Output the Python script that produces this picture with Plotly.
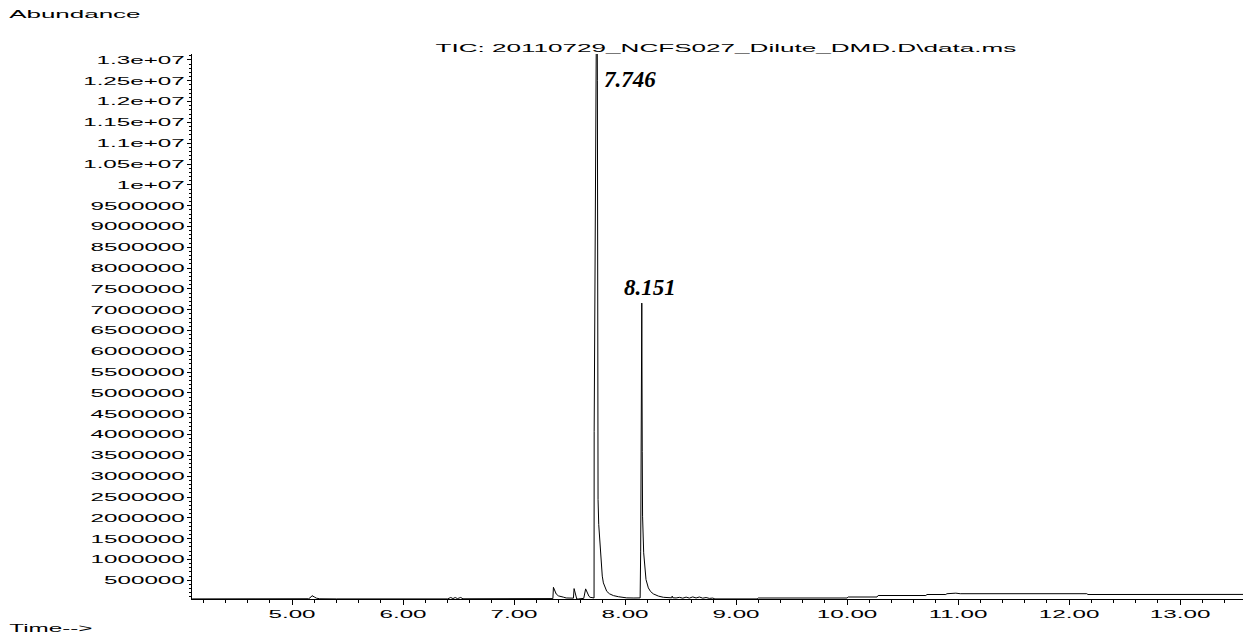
import plotly.graph_objects as go

# ---------------- data ----------------
rt_min = [
    4.10, 4.60, 4.64, 4.66, 4.70, 4.74, 4.78, 4.82, 4.90, 4.92, 4.94, 5.05, 5.07, 5.09,
    5.15, 5.17, 5.18, 5.20, 5.22, 5.25, 5.40, 6.40, 6.43, 6.45, 6.47, 6.49, 6.52, 6.54,
    7.22, 7.25, 7.27, 7.33, 7.350, 7.355, 7.365, 7.380, 7.400, 7.420, 7.444, 7.470,
    7.505, 7.535, 7.541, 7.552, 7.558, 7.565, 7.580, 7.620, 7.628, 7.645, 7.655, 7.665,
    7.675, 7.685, 7.700, 7.716, 7.721, 7.722, 7.732, 7.741, 7.746, 7.751, 7.754, 7.757,
    7.763, 7.768, 7.776, 7.784, 7.795, 7.805, 7.820, 7.835, 7.860, 7.895, 7.940, 7.980,
    8.015, 8.080, 8.136, 8.141, 8.147, 8.151, 8.155, 8.158, 8.168, 8.180, 8.189, 8.210,
    8.230, 8.255, 8.300, 8.345, 8.390, 8.420, 8.425, 8.430, 8.46, 8.49, 8.52, 8.55,
    8.58, 8.61, 8.64, 8.67, 8.70, 8.73, 8.76, 8.79, 8.81, 9.19, 9.20, 10.00,
    10.01, 10.27, 10.28, 10.71, 10.72, 10.89, 10.90, 10.98, 11.02, 11.30, 11.33, 11.36,
    11.55, 11.60, 11.63, 11.70, 11.75, 11.90, 11.95, 12.00, 12.16, 12.17, 12.66, 12.68,
    12.70, 13.57,
]
abundance = [
    52000, 52000, 60000, 68000, 62000, 70000, 60000, 52000, 55000, 62000, 52000, 55000, 63000, 52000,
    56000, 95000, 130000, 100000, 70000, 55000, 52000, 52000, 86000, 60000, 86000, 60000, 86000, 55000,
    52000, 62000, 53000, 55000, 60000, 331000, 250000, 170000, 125000, 105000, 95000, 75000,
    65000, 70000, 300000, 150000, 80000, 50000, 52000, 60000, 65000, 293000, 230000, 160000,
    115000, 91000, 78000, 72000, 75000, 4070000, 8200000, 11300000, 16000000, 12500000, 5000000, 2440000,
    1840000, 1640000, 1200000, 835000, 600000, 437000, 320000, 235000, 175000, 132000, 105000, 88000,
    77000, 74000, 76000, 1200000, 6000000, 7160000, 3600000, 2040000, 1160000, 804000, 516000, 317000,
    230000, 173000, 120000, 91000, 82000, 78000, 120000, 80000, 75000, 90000, 70000, 95000,
    72000, 100000, 75000, 98000, 70000, 85000, 65000, 72000, 52000, 52000, 74000, 74000,
    98000, 98000, 134000, 134000, 158000, 158000, 177000, 190000, 177000, 177000, 188000, 177000,
    177000, 190000, 177000, 190000, 177000, 177000, 190000, 177000, 177000, 158000, 158000, 170000,
    158000, 160000,
]

peak_times = [7.746, 8.151]
peak_labels = ["7.746", "8.151"]
peak_label_values = [12540000, 7540000]

x_tickvals = [5, 6, 7, 8, 9, 10, 11, 12, 13]
x_ticktext = ["5.00", "6.00", "7.00", "8.00", "9.00", "10.00", "11.00", "12.00", "13.00"]

y_tickvals = [500000, 1000000, 1500000, 2000000, 2500000, 3000000, 3500000, 4000000,
              4500000, 5000000, 5500000, 6000000, 6500000, 7000000, 7500000, 8000000,
              8500000, 9000000, 9500000, 10000000, 10500000, 11000000, 11500000,
              12000000, 12500000, 13000000]
y_ticktext = ["500000", "1000000", "1500000", "2000000", "2500000", "3000000", "3500000",
              "4000000", "4500000", "5000000", "5500000", "6000000", "6500000", "7000000",
              "7500000", "8000000", "8500000", "9000000", "9500000", "1e+07", "1.05e+07",
              "1.1e+07", "1.15e+07", "1.2e+07", "1.25e+07", "1.3e+07"]

title_text = "TIC: 20110729_NCFS027_Dilute_DMD.D\\data.ms"
y_label = "Abundance"
x_label = "Time-->"

# ---------------- figure ----------------
SANS = "Liberation Sans"
SERIF = "Liberation Serif"

fig = go.Figure()
fig.add_trace(go.Scatter(
    x=rt_min, y=abundance, mode="lines",
    line=dict(color="black", width=1), hoverinfo="skip", showlegend=False,
))

for t, lab, v in zip(peak_times, peak_labels, peak_label_values):
    if lab == "7.746":
        fig.add_annotation(x=t, y=v, xref="x", yref="y", text=lab, showarrow=False,
                           xanchor="left", yanchor="middle", xshift=5,
                           font=dict(family=SERIF, size=23, color="black",
                                     weight="bold", style="italic"))
    else:
        fig.add_annotation(x=t, y=v, xref="x", yref="y", text=lab, showarrow=False,
                           xanchor="center", yanchor="middle", xshift=8,
                           font=dict(family=SERIF, size=23, color="black",
                                     weight="bold", style="italic"))

fig.add_annotation(x=-0.1113, y=1.0734, xref="paper", yref="paper", text=y_label,
                   showarrow=False, xanchor="center", yanchor="middle",
                   font=dict(family=SANS, size=11, color="black"))
fig.add_annotation(x=-0.1337, y=-0.0532, xref="paper", yref="paper", text=x_label,
                   showarrow=False, xanchor="center", yanchor="middle",
                   font=dict(family=SANS, size=11, color="black"))

fig.update_layout(
    width=1243, height=635,
    margin=dict(l=192, r=0, t=54, b=36),
    paper_bgcolor="white", plot_bgcolor="white",
    title=dict(text=title_text, x=0.508, xref="paper", xanchor="center",
               y=1 - 48.5 / 635, yref="container", yanchor="middle",
               font=dict(family=SANS, size=11, color="black")),
    font=dict(family=SANS, size=11, color="black"),
    showlegend=False,
)
fig.update_xaxes(
    range=[4.099, 13.567], showgrid=False, zeroline=False,
    showline=True, linecolor="black", linewidth=1,
    tickmode="array", tickvals=x_tickvals, ticktext=x_ticktext,
    ticks="outside", ticklen=5, tickwidth=1, tickcolor="black",
    tickfont=dict(family=SANS, size=11, color="black"),
    minor=dict(tick0=0, dtick=0.2, ticks="outside", ticklen=3, tickwidth=1,
               tickcolor="black", showgrid=False),
)
fig.update_yaxes(
    range=[50000, 13144000], showgrid=False, zeroline=False,
    showline=True, linecolor="black", linewidth=1,
    tickmode="array", tickvals=y_tickvals, ticktext=y_ticktext,
    ticks="outside", ticklen=4, tickwidth=1, tickcolor="black",
    tickfont=dict(family=SANS, size=11, color="black"),
    minor=dict(tick0=0, dtick=100000, ticks="outside", ticklen=2, tickwidth=1,
               tickcolor="black", showgrid=False),
)

# widen the sans-serif labels to mimic the extended typeface of the original print
stretch_js = """
var gd = document.getElementById('{plot_id}');
function widen(){
  gd.querySelectorAll('text').forEach(function(el){
    var ff = el.style.fontFamily || '';
    if (ff.indexOf('Liberation Sans') < 0) return;
    if (el.getAttribute('data-wide')) return;
    var k = 2.2;
    var par = el.parentNode;
    if (el.classList.contains('gtitle')) k = 2.37;
    if (el.textContent === 'Abundance') k = 2.36;
    var w = el.getComputedTextLength();
    if (w > 0) {
      el.setAttribute('textLength', (w * k).toFixed(1));
      el.setAttribute('lengthAdjust', 'spacingAndGlyphs');
      el.setAttribute('data-wide', '1');
    }
  });
}
widen();
"""

fig.write_html("out.html", post_script=stretch_js, config={"displayModeBar": False})
